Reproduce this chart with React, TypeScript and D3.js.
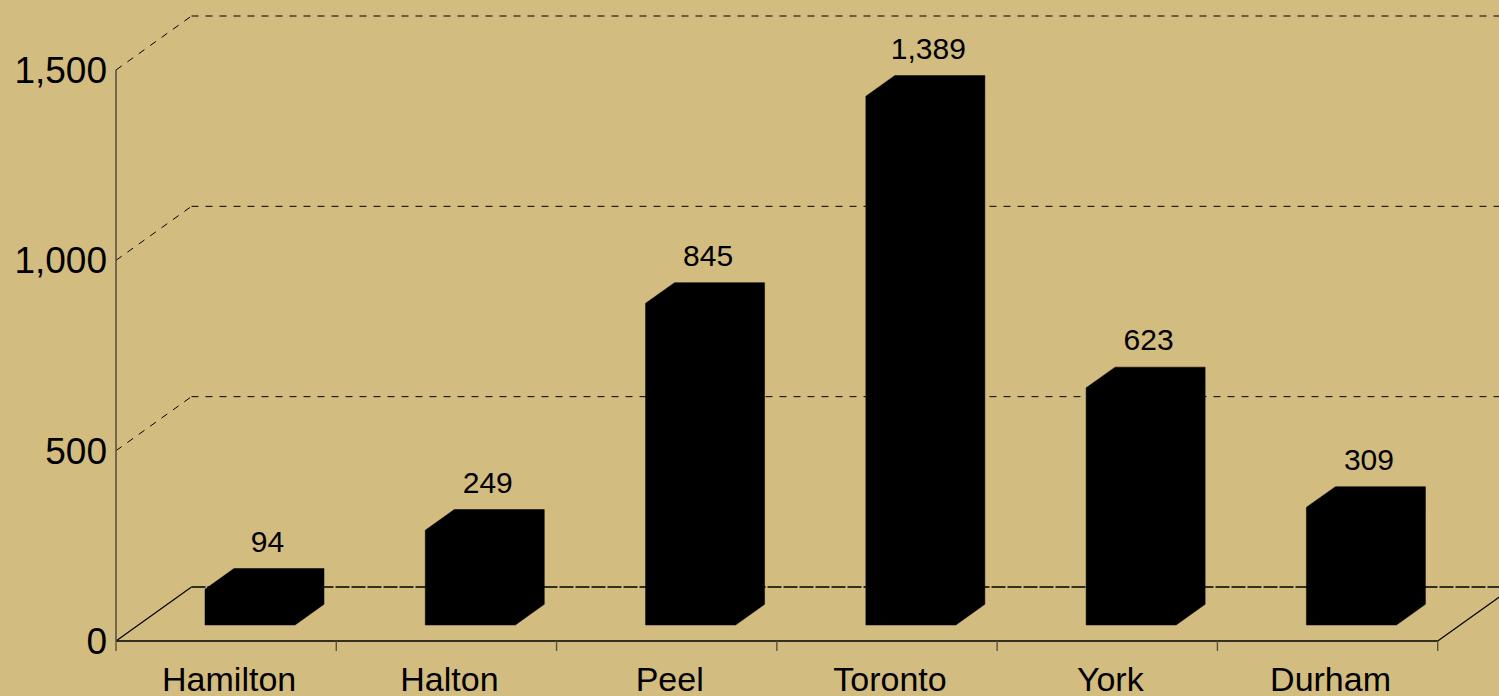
import React from "react";
import * as d3 from "d3";

const categories = ["Hamilton", "Halton", "Peel", "Toronto", "York", "Durham"];
const values = [94, 249, 845, 1389, 623, 309];
const yTicks = [0, 500, 1000, 1500];

const W = 1499;
const H = 696;
const BG = "#D3BC7F";
const FONT = "'Liberation Sans', Arial, sans-serif";

// 3D projection offsets
const DEPTH_X = 75.5;
const DEPTH_Y = -54;
const BAR_DX = 29;
const BAR_DY = -20.7;

export default function App() {
  const x = d3.scaleBand<string>().domain(categories).range([116, 1437.7]).paddingInner(0).paddingOuter(0);
  const y = d3.scaleLinear().domain([0, 1500]).range([641, 70]);
  const fmt = d3.format(",");
  const x0 = 116;
  const x1 = 1437.7;
  const yZero = y(0);
  const barBase = 625;
  const barOffset = 89;
  const barW = 90;

  const line = d3.line<[number, number]>();

  return (
    <svg width={W} height={H} style={{ position: "absolute", left: 0, top: 0 }} fontFamily={FONT}>
      <rect x={0} y={0} width={W} height={H} fill={BG} />

      {/* Gridlines: left wall diagonals + back wall horizontals */}
      {yTicks.map((t) => {
        const yf = y(t);
        const yb = yf + DEPTH_Y;
        const xb = x0 + DEPTH_X;
        if (t === 0) {
          return (
            <g key={t}>
              <path d={line([[x0, yf], [xb, yb]]) || ""} stroke="#000" strokeWidth={1.2} fill="none" />
              <path d={line([[xb, yb], [W + 10, yb]]) || ""} stroke="#000" strokeWidth={1.4} strokeDasharray="14 2" fill="none" />
            </g>
          );
        }
        return (
          <g key={t}>
            <path d={line([[x0, yf], [xb, yb]]) || ""} stroke="#000" strokeWidth={1} strokeDasharray="7 7" fill="none" />
            <path d={line([[xb, yb], [W + 10, yb]]) || ""} stroke="#000" strokeWidth={1} strokeDasharray="7 7" fill="none" />
          </g>
        );
      })}

      {/* Floor front edge and right edge */}
      <path d={line([[x0, yZero], [x1, yZero]]) || ""} stroke="#000" strokeWidth={1.5} fill="none" />
      <path d={line([[x1, yZero], [x1 + DEPTH_X, yZero + DEPTH_Y]]) || ""} stroke="#000" strokeWidth={1.2} fill="none" />

      {/* Y axis */}
      <path d={line([[x0, y(1500)], [x0, yZero]]) || ""} stroke="#5a5243" strokeWidth={1.6} fill="none" />

      {/* X ticks */}
      {categories.concat(["__end"]).map((c, i) => {
        const xp = i < categories.length ? (x(c) as number) : x1;
        return <path key={c} d={line([[xp, yZero], [xp, yZero + 10]]) || ""} stroke="#5a5243" strokeWidth={1.4} fill="none" />;
      })}

      {/* Y tick labels */}
      {yTicks.map((t) => (
        <text key={t} x={107} y={y(t) + 13} textAnchor="end" fontSize={37} fill="#000">
          {fmt(t)}
        </text>
      ))}

      {/* Bars */}
      {categories.map((c, i) => {
        const v = values[i];
        const h = yZero - y(v);
        const fl = (x(c) as number) + barOffset;
        const fr = fl + barW;
        const top = barBase - h;
        const pts: [number, number][] = [
          [fl, barBase],
          [fr, barBase],
          [fr + BAR_DX, barBase + BAR_DY],
          [fr + BAR_DX, top + BAR_DY],
          [fl + BAR_DX, top + BAR_DY],
          [fl, top],
        ];
        return (
          <g key={c}>
            <path d={(line(pts) || "") + "Z"} fill="#000" stroke="#000" strokeWidth={0.5} />
            <text x={fl + barW / 2 + BAR_DX / 2 + 3} y={top + BAR_DY - 17} textAnchor="middle" fontSize={30} fill="#000">
              {fmt(v)}
            </text>
          </g>
        );
      })}

      {/* Category labels */}
      {categories.map((c) => (
        <text key={c} x={(x(c) as number) + x.bandwidth() / 2 + 3} y={691} textAnchor="middle" fontSize={34} fill="#000">
          {c}
        </text>
      ))}
    </svg>
  );
}
